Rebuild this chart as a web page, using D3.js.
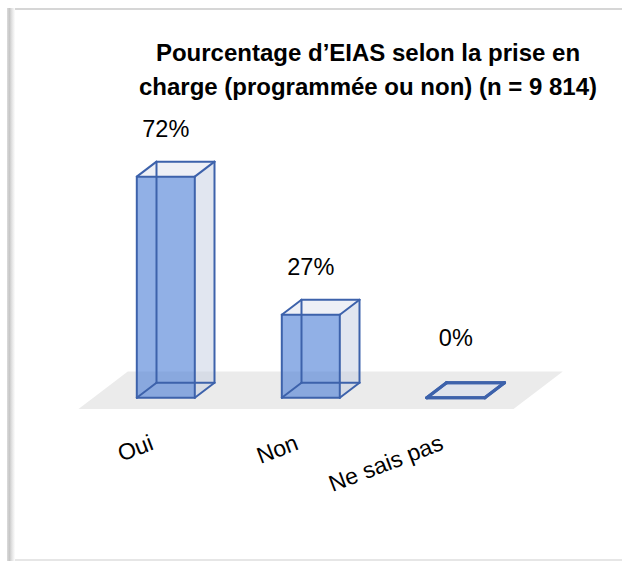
<!DOCTYPE html>
<html><head><meta charset="utf-8">
<script src="https://cdn.jsdelivr.net/npm/d3@7"></script>
<style>body{margin:0;background:#fff}svg{display:block}</style>
</head><body>
<script>
const categories = ["Oui", "Non", "Ne sais pas"];
const values = [72, 27, 0];
const valueLabels = ["72%", "27%", "0%"];
const titleLines = ["Pourcentage d’EIAS selon la prise en", "charge (programmée ou non) (n = 9 814)"];

const W = 622, H = 563;
const FONT = "'Liberation Sans', Arial, Helvetica, sans-serif";
const svg = d3.select("body").append("svg").attr("width", W).attr("height", H);

// frame
const defs = svg.append("defs");
const g1 = defs.append("linearGradient").attr("id", "lband").attr("x1", 0).attr("x2", 1).attr("y1", 0).attr("y2", 0);
g1.append("stop").attr("offset", 0).attr("stop-color", "#dcdcdc");
g1.append("stop").attr("offset", 0.3).attr("stop-color", "#c6c6c6");
g1.append("stop").attr("offset", 0.6).attr("stop-color", "#e2e2e2");
g1.append("stop").attr("offset", 1).attr("stop-color", "#fdfdfd");
svg.append("rect").attr("x", 7).attr("y", 8).attr("width", W).attr("height", 2).attr("fill", "#d6d6d6");
svg.append("rect").attr("x", 7).attr("y", 8).attr("width", 8).attr("height", 553).attr("fill", "url(#lband)");
svg.append("rect").attr("x", 15).attr("y", 559).attr("width", W).attr("height", 2).attr("fill", "#e6e6e6");

// scales
const x = d3.scaleBand().domain(categories).range([93.3, 528.3]).paddingInner(0.6).paddingOuter(0.3);
const y = d3.scaleLinear().domain([0, 80]).range([397.7, 397.7 - 80 * 3.07]);
const D = [19.7, -15];
const bw = x.bandwidth();
const pt = p => p.join(",");

// floor
const [r0, r1] = x.range();
const y0 = y(0);
const floorPts = [
  [r0 - 0.75 * D[0], y0 - 0.75 * D[1]],
  [r1 - 0.75 * D[0], y0 - 0.75 * D[1]],
  [r1 + 1.75 * D[0], y0 + 1.75 * D[1]],
  [r0 + 1.75 * D[0], y0 + 1.75 * D[1]]
];
const floorBackY = y0 + 1.75 * D[1];
svg.append("polygon").attr("points", floorPts.map(pt).join(" ")).attr("fill", "#ebebeb");

// bars
const EDGE = "#3d62ab";
categories.forEach((c, i) => {
  const v = values[i];
  const xa = x(c), xb = x(c) + bw, yt = y(v), yb = y0;
  const [dx, dy] = D;
  const g = svg.append("g");
  // right face
  g.append("polygon").attr("points", [[xb, yb], [xb, yt], [xb + dx, yt + dy], [xb + dx, yb + dy]].map(pt).join(" "))
    .attr("fill", "rgba(196,205,226,0.5)");
  // top face
  g.append("polygon").attr("points", [[xa, yt], [xb, yt], [xb + dx, yt + dy], [xa + dx, yt + dy]].map(pt).join(" "))
    .attr("fill", v === 0 ? "#dfe3ec" : "#eef0f6");
  // front face
  g.append("rect").attr("x", xa).attr("y", yt).attr("width", bw).attr("height", yb - yt)
    .attr("fill", "rgba(78,128,214,0.62)");
  // edges
  const edges = [
    [[xa, yt], [xb, yt]], [[xb, yt], [xb, yb]], [[xb, yb], [xa, yb]], [[xa, yb], [xa, yt]],
    [[xa + dx, yt + dy], [xb + dx, yt + dy]], [[xb + dx, yt + dy], [xb + dx, yb + dy]],
    [[xb + dx, yb + dy], [xa + dx, yb + dy]], [[xa + dx, yb + dy], [xa + dx, yt + dy]],
    [[xa, yt], [xa + dx, yt + dy]], [[xb, yt], [xb + dx, yt + dy]],
    [[xb, yb], [xb + dx, yb + dy]], [[xa, yb], [xa + dx, yb + dy]]
  ];
  edges.forEach(e => g.append("line")
    .attr("x1", e[0][0]).attr("y1", e[0][1]).attr("x2", e[1][0]).attr("y2", e[1][1])
    .attr("stroke", EDGE).attr("stroke-width", v === 0 ? 3 : 2).attr("stroke-linecap", "round"));

  // value label
  svg.append("text").attr("x", xa + bw / 2).attr("y", Math.min(yt - 40, floorBackY - 25))
    .attr("text-anchor", "middle").attr("font-family", FONT).attr("font-size", 23.5)
    .attr("fill", "#000").text(valueLabels[i]);

  // category label
  svg.append("text").attr("transform", `translate(${xa + bw / 2 - 11},449) rotate(-21)`)
    .attr("text-anchor", "end").attr("font-family", FONT).attr("font-size", 23)
    .attr("fill", "#000").text(c);
});

// title
svg.append("text").attr("x", 368).attr("y", 61).attr("text-anchor", "middle")
  .attr("font-family", FONT).attr("font-size", 24).attr("font-weight", "bold").attr("fill", "#000")
  .selectAll("tspan").data(titleLines).join("tspan")
  .attr("x", 368).attr("dy", (d, i) => i === 0 ? 0 : 34).text(d => d);
</script>
</body></html>
